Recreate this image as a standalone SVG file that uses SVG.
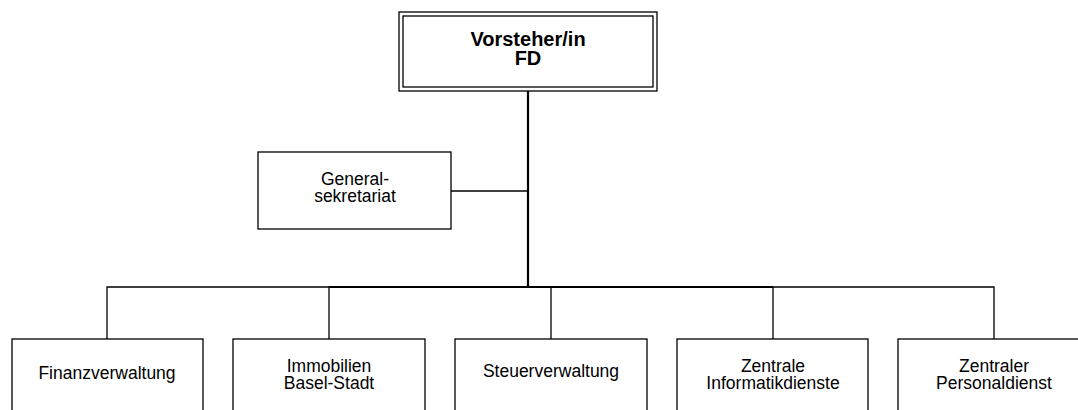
<svg xmlns="http://www.w3.org/2000/svg" width="1078" height="410" viewBox="0 0 1078 410">
<style>
.box{fill:#fff;stroke:#000;stroke-width:1.3}
.t{font-family:"Liberation Sans",Arial,sans-serif;font-size:17.5px;fill:#000;text-anchor:middle}
.b{font-family:"Liberation Sans",Arial,sans-serif;font-size:20px;font-weight:bold;fill:#000;text-anchor:middle}
.ln{stroke:#000;stroke-width:1.3;fill:none}
.thick{stroke:#000;stroke-width:2.2;fill:none}
</style>
<rect width="1078" height="410" fill="#fff"/>
<g id="connectors">
<line class="thick" x1="528" y1="91" x2="528" y2="287"/>
<line class="ln" x1="451" y1="191" x2="528" y2="191"/>
<polyline class="ln" points="107,339 107,287 994,287 994,339"/>
<line class="thick" x1="329" y1="287" x2="773" y2="287"/>
<line class="ln" x1="329" y1="287" x2="329" y2="339"/>
<line class="ln" x1="551" y1="287" x2="551" y2="339"/>
<line class="ln" x1="773" y1="287" x2="773" y2="339"/>
</g>
<g id="vorsteher">
<rect class="box" x="399" y="12" width="258" height="79"/>
<rect class="box" x="403" y="16" width="250" height="71"/>
<text class="b" x="528" y="46">Vorsteher/in</text>
<text class="b" x="528" y="65">FD</text>
</g>
<g id="generalsekretariat">
<rect class="box" x="258" y="152" width="193" height="77"/>
<text class="t" x="355" y="185">General-</text>
<text class="t" x="355" y="202">sekretariat</text>
</g>
<g id="finanzverwaltung">
<rect class="box" x="12" y="339" width="191" height="80"/>
<text class="t" x="107" y="379">Finanzverwaltung</text>
</g>
<g id="immobilien">
<rect class="box" x="233" y="339" width="192" height="80"/>
<text class="t" x="329" y="372">Immobilien</text>
<text class="t" x="329" y="389">Basel-Stadt</text>
</g>
<g id="steuerverwaltung">
<rect class="box" x="455" y="339" width="192" height="80"/>
<text class="t" x="551" y="377">Steuerverwaltung</text>
</g>
<g id="informatik">
<rect class="box" x="677" y="339" width="191" height="80"/>
<text class="t" x="773" y="372">Zentrale</text>
<text class="t" x="773" y="389">Informatikdienste</text>
</g>
<g id="personaldienst">
<rect class="box" x="898" y="339" width="192" height="80"/>
<text class="t" x="994" y="372">Zentraler</text>
<text class="t" x="994" y="389">Personaldienst</text>
</g>
</svg>
